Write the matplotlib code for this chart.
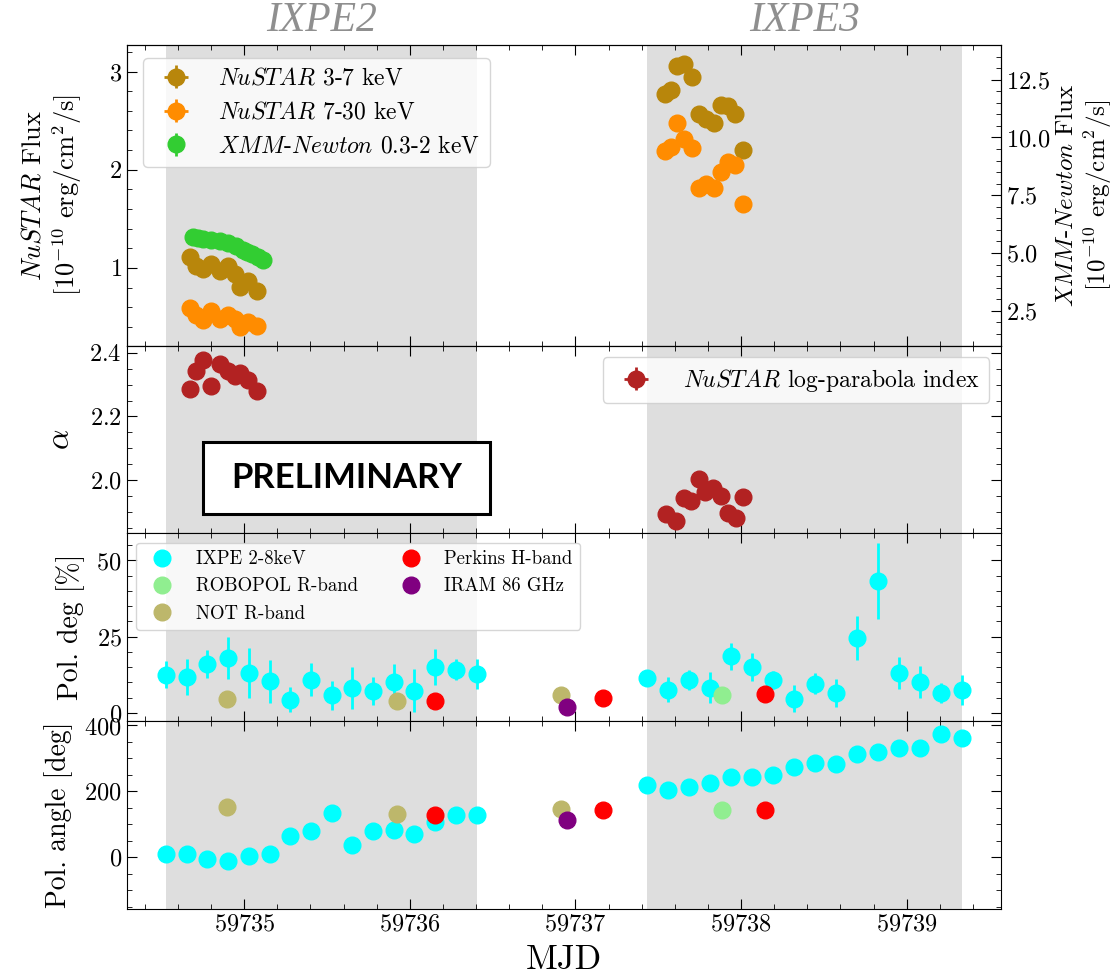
import matplotlib.pyplot as plt
import matplotlib.transforms as mtransforms
from matplotlib.patches import Rectangle
from matplotlib.ticker import MultipleLocator

plt.rcParams['font.family'] = 'serif'
plt.rcParams['font.serif'] = ['cmr10']
plt.rcParams['mathtext.fontset'] = 'cm'
plt.rcParams['axes.formatter.use_mathtext'] = True

# ---- NuSTAR fluxes, IXPE2 and IXPE3 windows ----
t_nu2 = [59734.671, 59734.711, 59734.751, 59734.802, 59734.852,
         59734.902, 59734.943, 59734.973, 59735.023, 59735.074]
nu37_2 = [1.115, 1.02, 0.994, 1.037, 0.97, 1.02, 0.937, 0.803, 0.869, 0.769]
nu730_2 = [0.592, 0.518, 0.467, 0.558, 0.484, 0.525, 0.484, 0.401, 0.451, 0.411]
alpha_2 = [2.286, 2.344, 2.377, 2.297, 2.366, 2.344, 2.326, 2.337, 2.313, 2.279]

t_nu3 = [59737.541, 59737.574, 59737.613, 59737.657, 59737.702, 59737.745,
         59737.790, 59737.834, 59737.877, 59737.920, 59737.966, 59738.010]
nu37_3 = [2.769, 2.813, 3.057, 3.080, 2.940, 2.572, 2.518, 2.477, 2.655, 2.645, 2.568, 2.200]
nu730_3 = [2.193, 2.233, 2.477, 2.311, 2.226, 1.818, 1.858, 1.818, 1.975, 2.075, 2.052, 1.650]

t_alpha3 = [59737.547, 59737.607, 59737.655, 59737.696, 59737.746, 59737.782,
            59737.833, 59737.877, 59737.920, 59737.970, 59738.010]
alpha_3 = [1.893, 1.871, 1.942, 1.935, 2.003, 1.963, 1.974, 1.949, 1.897, 1.879, 1.947]

# ---- XMM-Newton 0.3-2 keV ----
t_xmm = [59734.691, 59734.722, 59734.751, 59734.802, 59734.852, 59734.902,
         59734.953, 59734.993, 59735.018, 59735.044, 59735.083, 59735.114]
xmm = [5.68, 5.66, 5.61, 5.56, 5.50, 5.42, 5.32, 5.14, 5.04, 4.96, 4.85, 4.71]

# ---- IXPE 2-8 keV polarization ----
t_ixpe2 = [59734.528, 59734.653, 59734.778, 59734.903, 59735.028, 59735.153,
           59735.278, 59735.403, 59735.528, 59735.653, 59735.778, 59735.903,
           59736.028, 59736.153, 59736.278, 59736.403]
pd_ixpe2 = [12.5, 11.8, 16.1, 18.0, 13.1, 10.3, 4.3, 10.9, 5.7, 8.2, 7.1, 10.0, 7.3, 15.0, 14.2, 12.8]
pde_ixpe2 = [4.5, 5.8, 4.6, 6.8, 8.2, 7.0, 4.1, 5.5, 4.8, 6.8, 4.7, 5.9, 7.1, 5.9, 3.4, 4.9]
pa_ixpe2 = [9.1, 10.1, -5.2, -11.3, 3.0, 10.1, 64.9, 79.3, 135.1, 37.5, 81.1, 82.3, 71.0, 108.5, 129.0, 129.0]

t_ixpe3 = [59737.429, 59737.556, 59737.683, 59737.810, 59737.937, 59738.064,
           59738.191, 59738.318, 59738.445, 59738.572, 59738.699, 59738.826,
           59738.953, 59739.080, 59739.207, 59739.334]
pd_ixpe3 = [11.4, 7.6, 10.7, 8.2, 18.5, 14.9, 10.7, 4.6, 9.6, 6.5, 24.5, 43.3, 13.1, 10.1, 6.5, 7.4]
pde_ixpe3 = [2.5, 4.1, 3.3, 5.1, 4.4, 4.6, 3.0, 4.4, 3.4, 4.7, 7.2, 12.5, 5.3, 5.4, 3.4, 4.9]
pa_ixpe3 = [220.4, 203.1, 212.2, 225.6, 243.9, 244.8, 250.9, 273.2, 286.6, 283.5,
            314.0, 318.0, 330.2, 331.1, 372.9, 362.8]

# ---- optical / radio polarization ----
t_robo = [59737.883]
pd_robo = [5.7]
pa_robo = [144.2]

t_not = [59734.896, 59735.920, 59736.912]
pd_not = [4.6, 3.8, 5.7]
pa_not = [151.2, 132.0, 146.3]

t_perk = [59736.153, 59737.168, 59738.145]
pd_perk = [3.8, 4.7, 6.2]
pa_perk = [126.8, 144.2, 144.2]

t_iram = [59736.947]
pd_iram = [1.8]
pa_iram = [114.6]

ms = 12
shade = '#dedede'
tick_fs = 17.5
label_fs = 20


def style_axis(ax, right=True):
    ax.tick_params(which='both', direction='in', top=True, right=right, labelsize=tick_fs)
    ax.tick_params(which='major', length=7)
    ax.tick_params(which='minor', length=3.5)
    ax.xaxis.set_major_locator(MultipleLocator(1))
    ax.xaxis.set_minor_locator(MultipleLocator(0.2))
    ax.axvspan(t_ixpe2[0], t_ixpe2[-1], color=shade, lw=0, zorder=0)
    ax.axvspan(t_ixpe3[0], t_ixpe3[-1], color=shade, lw=0, zorder=0)


def main():
    fig = plt.figure(figsize=(11.19, 9.76), dpi=100)
    gs = fig.add_gridspec(4, 1, height_ratios=[1.6, 1, 1, 1], hspace=0,
                          left=0.1132, right=0.8946, top=1 - 45 / 976, bottom=1 - 909 / 976)
    ax0 = fig.add_subplot(gs[0])
    ax1 = fig.add_subplot(gs[1], sharex=ax0)
    ax2 = fig.add_subplot(gs[2], sharex=ax0)
    ax3 = fig.add_subplot(gs[3], sharex=ax0)

    # top panel: fluxes
    style_axis(ax0, right=False)
    kw = dict(fmt='o', ms=ms, elinewidth=2, capsize=0)
    h1 = ax0.errorbar(t_nu2, nu37_2, xerr=0.02, yerr=0.02, color='darkgoldenrod',
                      label='$NuSTAR$ 3-7 keV', **kw)
    ax0.errorbar(t_nu3, nu37_3, xerr=0.02, yerr=0.02, color='darkgoldenrod', **kw)
    h2 = ax0.errorbar(t_nu2, nu730_2, xerr=0.02, yerr=0.02, color='darkorange',
                      label='$NuSTAR$ 7-30 keV', **kw)
    ax0.errorbar(t_nu3, nu730_3, xerr=0.02, yerr=0.02, color='darkorange', **kw)
    ax0.set_ylim(0.21, 3.27)
    ax0.yaxis.set_major_locator(MultipleLocator(1))
    ax0.yaxis.set_minor_locator(MultipleLocator(0.2))
    ax0.set_ylabel('$NuSTAR$ Flux\n[$10^{-10}$ erg/cm$^2$/s]', fontsize=19, labelpad=18)

    ax0r = ax0.twinx()
    h3 = ax0r.errorbar(t_xmm, xmm, yerr=0.06, color='limegreen',
                       label='$XMM$-$Newton$ 0.3-2 keV', **kw)
    ax0r.set_ylim(1.0, 14.0)
    ax0r.yaxis.set_major_locator(MultipleLocator(2.5))
    ax0r.yaxis.set_minor_locator(MultipleLocator(0.5))
    ax0r.tick_params(which='both', direction='in', labelsize=tick_fs)
    ax0r.tick_params(which='major', length=7)
    ax0r.tick_params(which='minor', length=3.5)
    ax0r.set_ylabel('$XMM$-$Newton$ Flux\n[$10^{-10}$ erg/cm$^2$/s]', fontsize=18, labelpad=4)
    ax0r.legend(handles=[h1, h2, h3], loc='upper left', fontsize=17,
                bbox_to_anchor=(0.005, 0.995), handletextpad=0.8)

    tr = mtransforms.blended_transform_factory(ax0.transData, ax0.transAxes)
    for name, t in [('IXPE2', t_ixpe2), ('IXPE3', t_ixpe3)]:
        ax0.text((t[0] + t[-1]) / 2, 1.015, name, transform=tr, ha='center', va='bottom',
                 fontsize=30, color='#8f8f8f', family='Liberation Serif', style='italic')

    # alpha panel
    style_axis(ax1)
    ax1.errorbar(t_nu2, alpha_2, xerr=0.02, yerr=0.01, color='firebrick',
                 label='$NuSTAR$ log-parabola index', **kw)
    ax1.errorbar(t_alpha3, alpha_3, xerr=0.02, yerr=0.01, color='firebrick', **kw)
    ax1.set_ylim(1.832, 2.423)
    ax1.yaxis.set_major_locator(MultipleLocator(0.2))
    ax1.yaxis.set_minor_locator(MultipleLocator(0.05))
    ax1.set_ylabel(r'$\alpha$', fontsize=23, labelpad=10)
    ax1.legend(loc='upper right', fontsize=17, handletextpad=1.0)
    ax1.add_patch(Rectangle((0.0877, 0.104), 0.328, 0.383, transform=ax1.transAxes,
                            facecolor='white', edgecolor='black', lw=2.2, zorder=5))
    ax1.text(0.252, 0.295, 'PRELIMINARY', transform=ax1.transAxes, ha='center', va='center',
             fontsize=25, fontweight='bold', family='Lato', zorder=6)

    # polarization degree
    style_axis(ax2)
    ax2.errorbar(t_ixpe2, pd_ixpe2, yerr=pde_ixpe2, fmt='none', ecolor='cyan', elinewidth=2)
    ax2.errorbar(t_ixpe3, pd_ixpe3, yerr=pde_ixpe3, fmt='none', ecolor='cyan', elinewidth=2)
    ax2.plot(t_ixpe2 + t_ixpe3, pd_ixpe2 + pd_ixpe3, 'o', color='cyan', ms=ms, label='IXPE 2-8keV')
    ax2.plot(t_robo, pd_robo, 'o', color='lightgreen', ms=ms, label='ROBOPOL R-band')
    ax2.plot(t_not, pd_not, 'o', color='darkkhaki', ms=ms, label='NOT R-band')
    ax2.plot(t_perk, pd_perk, 'o', color='red', ms=ms, label='Perkins H-band')
    ax2.plot(t_iram, pd_iram, 'o', color='purple', ms=ms, label='IRAM 86 GHz')
    ax2.set_ylim(-2.75, 58.9)
    ax2.yaxis.set_major_locator(MultipleLocator(25))
    ax2.yaxis.set_minor_locator(MultipleLocator(5))
    ax2.set_ylabel('Pol. deg [%]', fontsize=label_fs, labelpad=8)
    ax2.legend(loc='upper left', ncol=2, fontsize=13.5, columnspacing=1.8,
               bbox_to_anchor=(0.0, 1.0))

    # polarization angle
    style_axis(ax3)
    ax3.plot(t_ixpe2 + t_ixpe3, pa_ixpe2 + pa_ixpe3, 'o', color='cyan', ms=ms)
    ax3.plot(t_robo, pa_robo, 'o', color='lightgreen', ms=ms)
    ax3.plot(t_not, pa_not, 'o', color='darkkhaki', ms=ms)
    ax3.plot(t_perk, pa_perk, 'o', color='red', ms=ms)
    ax3.plot(t_iram, pa_iram, 'o', color='purple', ms=ms)
    ax3.set_ylim(-157, 413)
    ax3.yaxis.set_major_locator(MultipleLocator(200))
    ax3.yaxis.set_minor_locator(MultipleLocator(50))
    ax3.set_ylabel('Pol. angle [deg]', fontsize=label_fs, labelpad=8)
    ax3.set_xlabel('MJD', fontsize=25, labelpad=6)

    ax3.set_xlim(59734.29, 59739.57)
    for ax in (ax0, ax1, ax2):
        ax.tick_params(labelbottom=False)
    ax3.ticklabel_format(axis='x', useOffset=False, style='plain')

    fig.savefig('out.png', dpi=100)


if __name__ == "__main__":
    main()
